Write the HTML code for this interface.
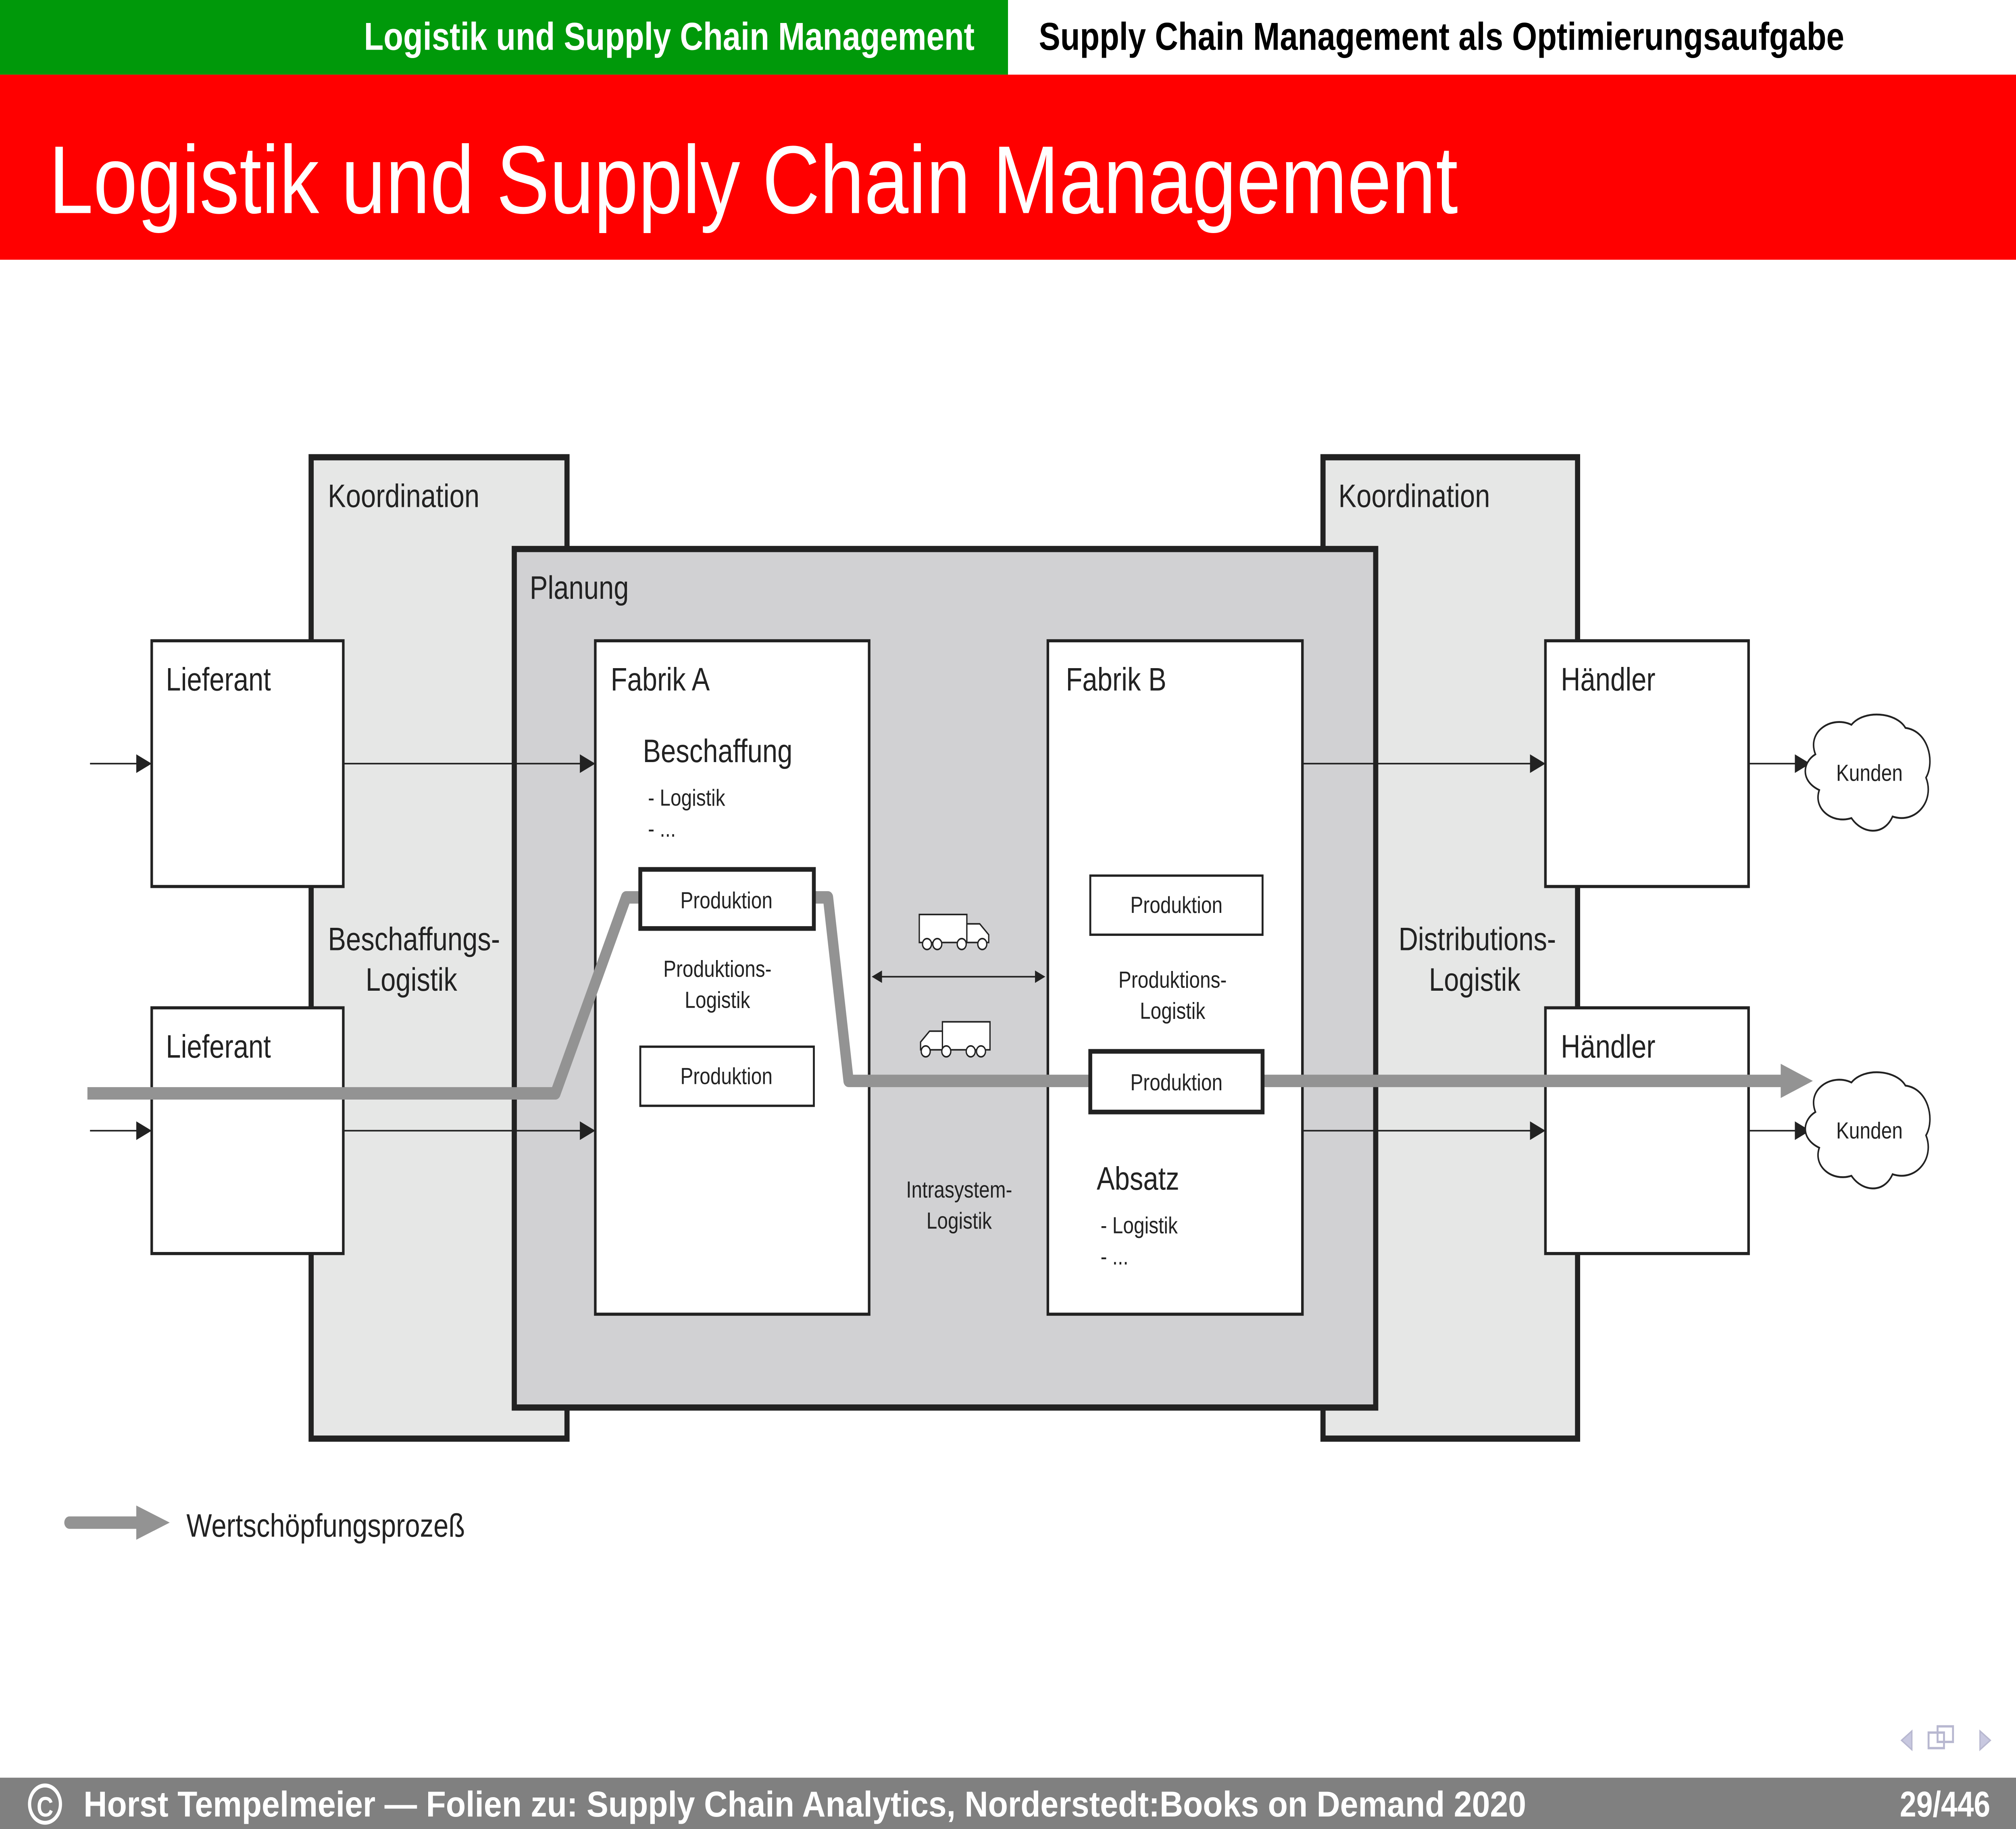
<!DOCTYPE html>
<html><head><meta charset="utf-8"><style>
html,body{margin:0;padding:0;background:#fff;width:100%;height:100%;overflow:hidden;}
svg{display:block;width:100vw;height:100vh;}
text{font-family:"Liberation Sans","DejaVu Sans",sans-serif;}
</style></head><body>
<svg xmlns="http://www.w3.org/2000/svg" viewBox="0 0 1568 1176" preserveAspectRatio="none">
<defs>
<marker id="a" viewBox="0 0 10 10" refX="10" refY="5" markerWidth="18" markerHeight="12" markerUnits="userSpaceOnUse" orient="auto"><path d="M0,0L10,5L0,10z" fill="#222"/></marker>
<marker id="b" viewBox="0 0 10 10" refX="0" refY="5" markerWidth="10" markerHeight="8" markerUnits="userSpaceOnUse" orient="auto-start-reverse"><path d="M0,0L10,5L0,10z" fill="#222"/></marker>
</defs>
<rect width="1568" height="1176" fill="#fff"/>
<rect x="0" y="0" width="784" height="48" fill="#00990a"/>
<text x="758" y="32" text-anchor="end" font-size="25" font-weight="bold" fill="#fff" font-family="DejaVu Sans">Logistik und Supply Chain Management</text>
<text x="808" y="32" font-size="25" font-weight="bold" fill="#000" font-family="DejaVu Sans">Supply Chain Management als Optimierungsaufgabe</text>
<rect x="0" y="48" width="1568" height="119" fill="#ff0000"/>
<text x="38" y="137" font-size="62" fill="#fff" font-family="DejaVu Sans">Logistik und Supply Chain Management</text>

<rect x="242" y="294" width="199" height="631" fill="#e6e7e6" stroke="#222" stroke-width="4"/>
<rect x="1029" y="294" width="198" height="631" fill="#e6e7e6" stroke="#222" stroke-width="4"/>
<text x="255" y="326" font-size="21" fill="#222">Koordination</text>
<text x="1041" y="326" font-size="21" fill="#222">Koordination</text>
<text x="322" y="611" font-size="21" fill="#222" text-anchor="middle">Beschaffungs-</text>
<text x="320" y="637" font-size="21" fill="#222" text-anchor="middle">Logistik</text>
<text x="1149" y="611" font-size="21" fill="#222" text-anchor="middle">Distributions-</text>
<text x="1147" y="637" font-size="21" fill="#222" text-anchor="middle">Logistik</text>

<rect x="400" y="353" width="670" height="552" fill="#d1d1d3" stroke="#222" stroke-width="4"/>
<text x="412" y="385" font-size="21" fill="#222">Planung</text>

<rect x="463" y="412" width="213" height="433" fill="#fff" stroke="#222" stroke-width="2"/>
<rect x="815" y="412" width="198" height="433" fill="#fff" stroke="#222" stroke-width="2"/>
<text x="475" y="444" font-size="21" fill="#222">Fabrik A</text>
<text x="829" y="444" font-size="21" fill="#222">Fabrik B</text>
<text x="500" y="490" font-size="21" fill="#222">Beschaffung</text>
<text x="504" y="518" font-size="15" fill="#222">- Logistik</text>
<text x="504" y="538" font-size="15" fill="#222">- ...</text>
<text x="558" y="628" font-size="15" fill="#222" text-anchor="middle">Produktions-</text>
<text x="558" y="648" font-size="15" fill="#222" text-anchor="middle">Logistik</text>
<rect x="498" y="673" width="135" height="38" fill="#fff" stroke="#222" stroke-width="1.5"/>
<text x="565" y="697" font-size="15" fill="#222" text-anchor="middle">Produktion</text>
<rect x="848" y="563" width="134" height="38" fill="#fff" stroke="#222" stroke-width="1.5"/>
<text x="915" y="587" font-size="15" fill="#222" text-anchor="middle">Produktion</text>
<text x="912" y="635" font-size="15" fill="#222" text-anchor="middle">Produktions-</text>
<text x="912" y="655" font-size="15" fill="#222" text-anchor="middle">Logistik</text>
<text x="853" y="765" font-size="21" fill="#222">Absatz</text>
<text x="856" y="793" font-size="15" fill="#222">- Logistik</text>
<text x="856" y="813" font-size="15" fill="#222">- ...</text>
<text x="746" y="770" font-size="15" fill="#222" text-anchor="middle">Intrasystem-</text>
<text x="746" y="790" font-size="15" fill="#222" text-anchor="middle">Logistik</text>

<rect x="118" y="412" width="149" height="158" fill="#fff" stroke="#222" stroke-width="2"/>
<rect x="118" y="648" width="149" height="158" fill="#fff" stroke="#222" stroke-width="2"/>
<rect x="1202" y="412" width="158" height="158" fill="#fff" stroke="#222" stroke-width="2"/>
<rect x="1202" y="648" width="158" height="158" fill="#fff" stroke="#222" stroke-width="2"/>
<text x="129" y="444" font-size="21" fill="#222">Lieferant</text>
<text x="129" y="680" font-size="21" fill="#222">Lieferant</text>
<text x="1214" y="444" font-size="21" fill="#222">Händler</text>
<text x="1214" y="680" font-size="21" fill="#222">Händler</text>

<g stroke="#222" stroke-width="1" fill="none" marker-end="url(#a)">
<line x1="70" y1="491" x2="118" y2="491"/>
<line x1="70" y1="727" x2="118" y2="727"/>
<line x1="267" y1="491" x2="463" y2="491"/>
<line x1="267" y1="727" x2="463" y2="727"/>
<line x1="1013" y1="491" x2="1202" y2="491"/>
<line x1="1013" y1="727" x2="1202" y2="727"/>
<line x1="1360" y1="491" x2="1408" y2="491"/>
<line x1="1360" y1="727" x2="1408" y2="727"/>
</g>
<line x1="686" y1="628" x2="805" y2="628" stroke="#222" stroke-width="1" marker-start="url(#b)" marker-end="url(#b)"/>

<g fill="#fff" stroke="#222" stroke-width="1.2">
<path d="M1412,485 C1405,470 1425,460 1440,466 C1450,456 1475,458 1482,468 C1500,470 1505,490 1498,500 C1505,515 1490,530 1472,525 C1465,538 1448,536 1440,526 C1425,530 1410,520 1415,508 C1400,502 1402,490 1412,485Z"/>
<path d="M1412,715 C1405,700 1425,690 1440,696 C1450,686 1475,688 1482,698 C1500,700 1505,720 1498,730 C1505,745 1490,760 1472,755 C1465,768 1448,766 1440,756 C1425,760 1410,750 1415,738 C1400,732 1402,720 1412,715Z"/>
</g>
<text x="1454" y="502" font-size="15" fill="#222" text-anchor="middle">Kunden</text>
<text x="1454" y="732" font-size="15" fill="#222" text-anchor="middle">Kunden</text>

<g fill="#fff" stroke="#222" stroke-width="1">
<rect x="715" y="588" width="37" height="18"/>
<path d="M752,594 h10 l7,7 v5 h-17z"/>
<circle cx="721" cy="607" r="3.5"/><circle cx="729" cy="607" r="3.5"/><circle cx="748" cy="607" r="3.5"/><circle cx="764" cy="607" r="3.5"/>
<rect x="733" y="657" width="37" height="18"/>
<path d="M733,663 h-10 l-7,7 v5 h17z"/>
<circle cx="720" cy="676" r="3.5"/><circle cx="736" cy="676" r="3.5"/><circle cx="755" cy="676" r="3.5"/><circle cx="763" cy="676" r="3.5"/>
</g>

<polyline points="68,703 432,703 487,577 498,577" fill="none" stroke="#939393" stroke-width="8" stroke-linejoin="round"/>
<polyline points="633,577 644,577 660,695 848,695" fill="none" stroke="#939393" stroke-width="8" stroke-linejoin="round"/>
<line x1="982" y1="695" x2="1390" y2="695" stroke="#939393" stroke-width="8"/>
<path d="M1385,684 L1410,695 L1385,706z" fill="#939393"/>
<rect x="498" y="559" width="135" height="38" fill="#fff" stroke="#222" stroke-width="3"/>
<text x="565" y="584" font-size="15" fill="#222" text-anchor="middle">Produktion</text>
<rect x="848" y="676" width="134" height="39" fill="#fff" stroke="#222" stroke-width="3"/>
<text x="915" y="701" font-size="15" fill="#222" text-anchor="middle">Produktion</text>

<line x1="54" y1="979" x2="110" y2="979" stroke="#939393" stroke-width="8" stroke-linecap="round"/>
<path d="M106,968 L132,979 L106,990z" fill="#939393"/>
<text x="145" y="988" font-size="21" fill="#222">Wertschöpfungsprozeß</text>

<g fill="#c8c8e0" stroke="#b8b8d0">
<path d="M1487,1113 l-8,6 l8,6z"/>
<rect x="1500" y="1114" width="12" height="10" fill="none" stroke-width="1.5"/>
<rect x="1507" y="1110" width="12" height="10" fill="none" stroke-width="1.5"/>
<path d="M1540,1113 l8,6 l-8,6z"/>
</g>
<rect x="0" y="1143" width="1568" height="33" fill="#808080"/>
<circle cx="35" cy="1160" r="12" fill="none" stroke="#fff" stroke-width="2.5"/>
<text x="35" y="1168" font-size="18" font-weight="bold" fill="#fff" text-anchor="middle" font-family="DejaVu Sans">C</text>
<text x="65" y="1168" font-size="23" font-weight="bold" fill="#fff" font-family="DejaVu Sans" textLength="1122" lengthAdjust="spacingAndGlyphs">Horst Tempelmeier — Folien zu: Supply Chain Analytics, Norderstedt:Books on Demand 2020</text>
<text x="1548" y="1168" font-size="23" font-weight="bold" fill="#fff" text-anchor="end" font-family="DejaVu Sans">29/446</text>
</svg>
</body></html>
